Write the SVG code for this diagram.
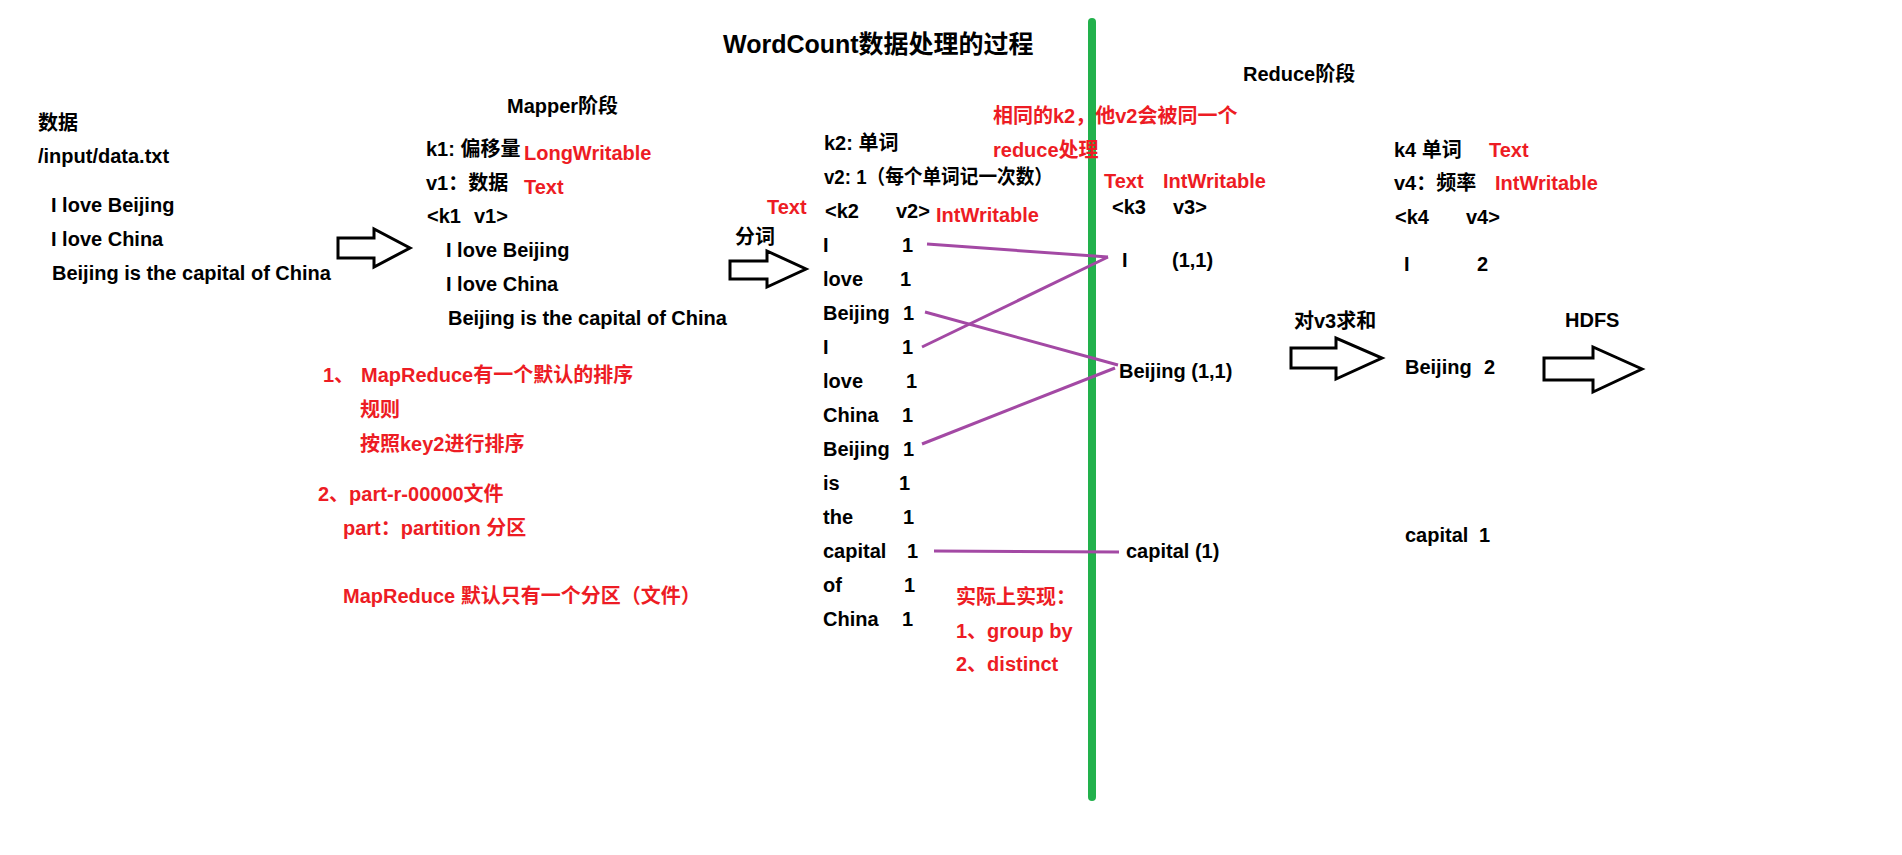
<svg xmlns="http://www.w3.org/2000/svg" width="1902" height="855" viewBox="0 0 1902 855">
<style>
text{font-family:"Liberation Sans","Noto Sans CJK SC",sans-serif;font-weight:bold;font-size:20px;fill:#000;white-space:pre}
.r{fill:#ED1C24}
.t{font-size:25px}
.arrow{fill:#fff;stroke:#000;stroke-width:3;stroke-linejoin:miter}
.link{stroke:#A349A4;stroke-width:3;fill:none}
</style>
<rect width="1902" height="855" fill="#fff"/>
<line id="divider" x1="1092" y1="22" x2="1092" y2="797" stroke="#22B14C" stroke-width="8" stroke-linecap="round"/>
<g id="title"><text class="t" x="723" y="53">WordCount数据处理的过程</text></g>
<g id="input">
<text x="38" y="130">数据</text>
<text x="38" y="163">/input/data.txt</text>
<text x="51" y="212">I love Beijing</text>
<text x="51" y="246">I love China</text>
<text x="52" y="280">Beijing is the capital of China</text>
</g>
<g id="mapper">
<text x="507" y="113">Mapper阶段</text>
<text x="426" y="156">k1: 偏移量</text><text class="r" x="524" y="160">LongWritable</text>
<text x="426" y="190">v1：数据</text><text class="r" x="524" y="194">Text</text>
<text x="427" y="223">&lt;k1</text><text x="474" y="223">v1&gt;</text>
<text x="446" y="257">I love Beijing</text>
<text x="446" y="291">I love China</text>
<text x="448" y="325">Beijing is the capital of China</text>
</g>
<g id="notes">
<text class="r" x="323" y="382">1、</text><text class="r" x="361" y="382">MapReduce有一个默认的排序</text>
<text class="r" x="360" y="417">规则</text>
<text class="r" x="360" y="451">按照key2进行排序</text>
<text class="r" x="318" y="501">2、part-r-00000文件</text>
<text class="r" x="343" y="535">part：partition 分区</text>
<text class="r" x="343" y="603">MapReduce 默认只有一个分区（文件）</text>
</g>
<g id="map-output">
<text x="735" y="244">分词</text>
<text x="824" y="150">k2: 单词</text>
<text x="824" y="184" textLength="229" lengthAdjust="spacingAndGlyphs">v2: 1（每个单词记一次数）</text>
<text class="r" x="767" y="214">Text</text>
<text x="825" y="218">&lt;k2</text><text x="896" y="218">v2&gt;</text>
<text class="r" x="936" y="222">IntWritable</text>
<text x="823" y="252">I</text><text x="902" y="252">1</text>
<text x="823" y="286">love</text><text x="900" y="286">1</text>
<text x="823" y="320">Beijing</text><text x="903" y="320">1</text>
<text x="823" y="354">I</text><text x="902" y="354">1</text>
<text x="823" y="388">love</text><text x="906" y="388">1</text>
<text x="823" y="422">China</text><text x="902" y="422">1</text>
<text x="823" y="456">Beijing</text><text x="903" y="456">1</text>
<text x="823" y="490">is</text><text x="899" y="490">1</text>
<text x="823" y="524">the</text><text x="903" y="524">1</text>
<text x="823" y="558">capital</text><text x="907" y="558">1</text>
<text x="823" y="592">of</text><text x="904" y="592">1</text>
<text x="823" y="626">China</text><text x="902" y="626">1</text>
</g>
<g id="group-note">
<text class="r" x="956" y="604">实际上实现：</text>
<text class="r" x="956" y="638">1、group by</text>
<text class="r" x="956" y="671">2、distinct</text>
</g>
<g id="reduce-input">
<text x="1243" y="81">Reduce阶段</text>
<text class="r" x="993" y="123">相同的k2，他v2会被同一个</text>
<text class="r" x="993" y="157">reduce处理</text>
<text class="r" x="1104" y="188">Text</text><text class="r" x="1163" y="188">IntWritable</text>
<text x="1112" y="214">&lt;k3</text><text x="1173" y="214">v3&gt;</text>
<text x="1122" y="267">I</text><text x="1172" y="267">(1,1)</text>
<text x="1119" y="378">Beijing (1,1)</text>
<text x="1126" y="558">capital (1)</text>
</g>
<g id="reduce-output">
<text x="1294" y="328">对v3求和</text>
<text x="1394" y="157">k4 单词</text><text class="r" x="1489" y="157">Text</text>
<text x="1394" y="190">v4：频率</text><text class="r" x="1495" y="190">IntWritable</text>
<text x="1395" y="224">&lt;k4</text><text x="1466" y="224">v4&gt;</text>
<text x="1404" y="271">I</text><text x="1477" y="271">2</text>
<text x="1405" y="374">Beijing</text><text x="1484" y="374">2</text>
<text x="1405" y="542">capital</text><text x="1479" y="542">1</text>
<text x="1565" y="327">HDFS</text>
</g>
<g id="connectors">
<polygon class="arrow" points="338,238 374,238 374,229 410,248 374,267 374,258 338,258"/>
<polygon class="arrow" points="730,261 767,261 767,251 806,269 767,287 767,279 730,279"/>
<polygon class="arrow" points="1291,348 1336,348 1336,338 1382,358 1336,379 1336,368 1291,368"/>
<polygon class="arrow" points="1544,358 1593,358 1593,347 1642,369 1593,392 1593,380 1544,380"/>
<line class="link" x1="927" y1="244" x2="1108" y2="257"/>
<line class="link" x1="922" y1="347" x2="1108" y2="257"/>
<line class="link" x1="925" y1="312" x2="1118" y2="365"/>
<line class="link" x1="922" y1="444" x2="1115" y2="368"/>
<line class="link" x1="934" y1="551" x2="1119" y2="552"/>
</g>
</svg>
